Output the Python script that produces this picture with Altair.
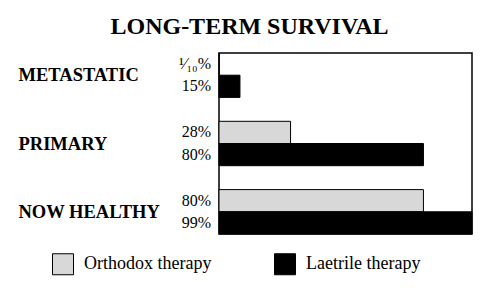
import altair as alt
import pandas as pd

categories = ["METASTATIC", "PRIMARY", "NOW HEALTHY"]
series = ["Orthodox therapy", "Laetrile therapy"]
# bar lengths as drawn in the picture (percent of axis)
orthodox_len = [0.1, 28, 80]
laetrile_len = [8.2, 80, 99]
# printed labels
orthodox_lbl = ["¹⁄₁₀%", "28%", "80%"]
laetrile_lbl = ["15%", "80%", "99%"]

rows = []
for i, c in enumerate(categories):
    rows.append({"cat": c, "series": series[0], "value": orthodox_len[i], "label": orthodox_lbl[i]})
    rows.append({"cat": c, "series": series[1], "value": laetrile_len[i], "label": laetrile_lbl[i]})
df = pd.DataFrame(rows)

serif = "Liberation Serif"

y_enc = alt.Y("cat:N", sort=categories,
              scale=alt.Scale(paddingInner=0.35, paddingOuter=0.0),
              axis=alt.Axis(title=None, ticks=False, domain=False, labelAlign="left",
                            labelPadding=201, labelLimit=300, labelFont=serif,
                            labelFontSize=18.5, labelFontWeight="bold", labelColor="black"))
yoff = alt.YOffset("series:N", sort=series, scale=alt.Scale(paddingInner=0, paddingOuter=0))

bars = alt.Chart(df).mark_bar(stroke="black", strokeWidth=1).encode(
    x=alt.X("value:Q", scale=alt.Scale(domain=[0, 99], nice=False, zero=True), axis=None),
    y=y_enc,
    yOffset=yoff,
    color=alt.Color("series:N", sort=series,
                    scale=alt.Scale(domain=series, range=["#d8d8d8", "#000000"]),
                    legend=alt.Legend(title=None, orient="none", legendX=-167, legendY=200,
                                      direction="horizontal", symbolType="square",
                                      symbolSize=441, symbolStrokeColor="black",
                                      symbolStrokeWidth=1, labelFont=serif, labelFontSize=18,
                                      labelColor="black", columnPadding=60, labelOffset=10,
                                      labelLimit=300)),
)

labels = alt.Chart(df).mark_text(align="right", baseline="middle", font=serif,
                                 fontSize=16, color="black").encode(
    x=alt.value(-8),
    y=alt.Y("cat:N", sort=categories),
    yOffset=alt.YOffset("series:N", sort=series),
    text="label:N",
)

chart = (bars + labels).properties(
    width=253, height=181,
    autosize=alt.AutoSizeParams(type="none"),
    padding={"left": 219, "top": 53, "right": 21, "bottom": 70},
    title=alt.Title("LONG-TERM SURVIVAL", font=serif, fontSize=24, fontWeight="bold",
                    color="black", anchor="middle", dx=-96, offset=14),
    background="white",
).configure_view(stroke="black", strokeWidth=1.5)

chart.save("out.html", embed_options={"renderer": "svg", "actions": False})
